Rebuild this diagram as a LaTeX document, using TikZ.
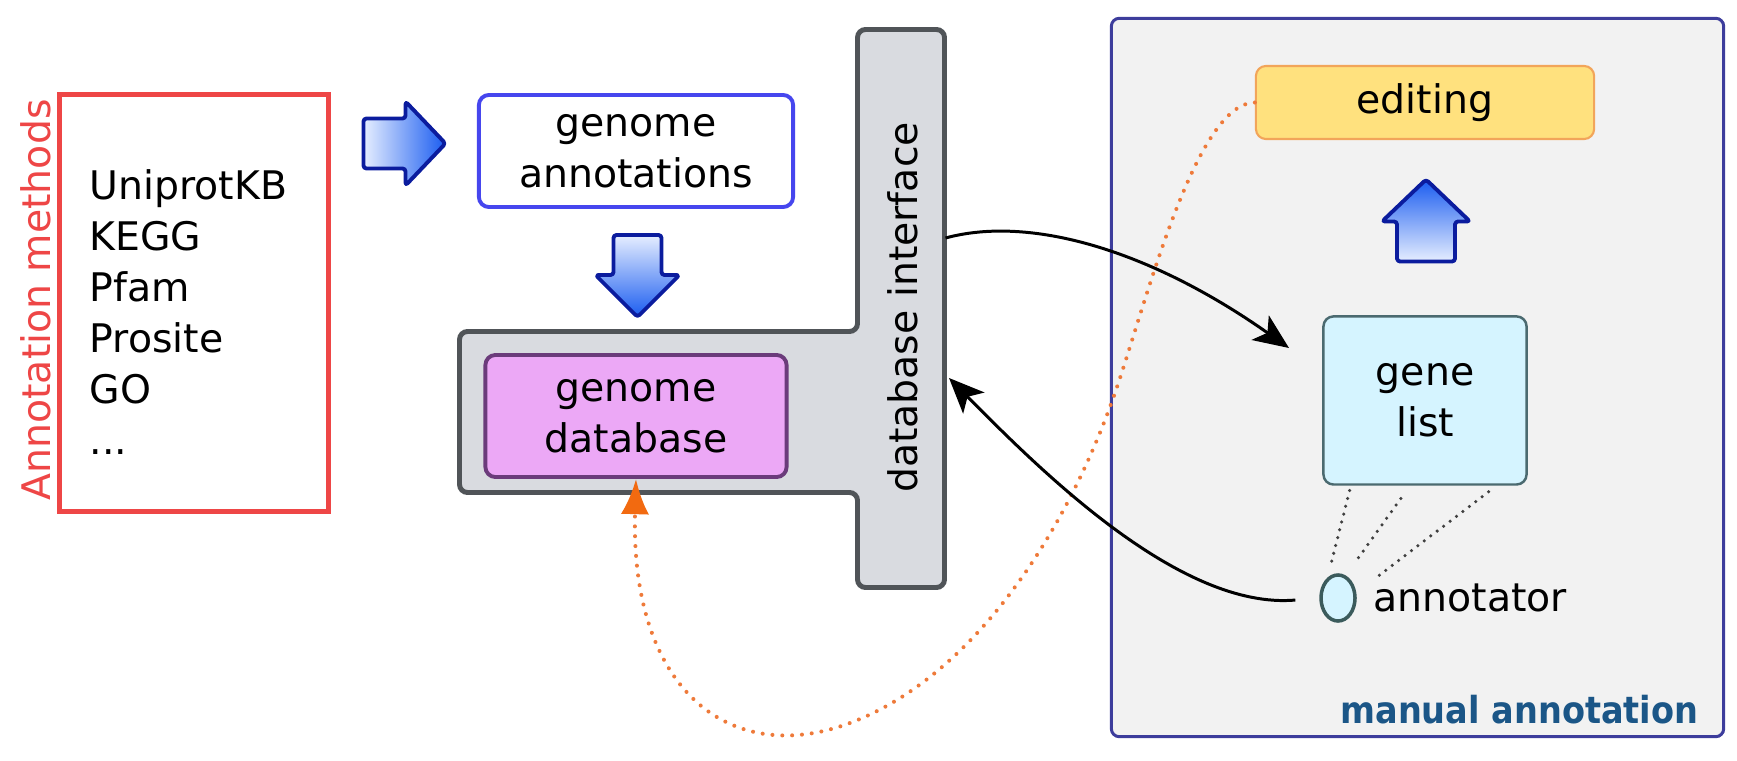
\documentclass[tikz,border=0pt]{standalone}
\usepackage{fontspec}
\setmainfont{DejaVu Sans}
\newfontfamily\labelfont[FakeStretch=0.9]{DejaVu Sans}
\usepackage{xcolor}
\usetikzlibrary{shapes.geometric,arrows.meta,positioning,calc}

\definecolor{methred}{HTML}{EE4646}
\definecolor{annblue}{HTML}{4646EE}
\definecolor{ifgray}{HTML}{D9DBE0}
\definecolor{ifedge}{HTML}{505458}
\definecolor{dbfill}{HTML}{ECA8F6}
\definecolor{dbedge}{HTML}{6B3B7B}
\definecolor{panelfill}{HTML}{F2F2F2}
\definecolor{paneledge}{HTML}{3D3D9C}
\definecolor{editfill}{HTML}{FFE17E}
\definecolor{editedge}{HTML}{F2A55A}
\definecolor{listfill}{HTML}{D5F4FF}
\definecolor{listedge}{HTML}{4B6A70}
\definecolor{annedge}{HTML}{3B5B5C}
\definecolor{labelblue}{HTML}{1B5687}
\definecolor{arrowedge}{HTML}{0B1C9E}
\definecolor{arrowlight}{HTML}{E6EEFF}
\definecolor{arrowdark}{HTML}{1A5CF0}
\definecolor{trace}{HTML}{EE7A3A}
\definecolor{tracehead}{HTML}{F26A10}

\begin{document}
\begin{tikzpicture}[
    x=0.01cm, y=-0.01cm,
    every node/.style={font=\fontsize{11.2}{14.5}\selectfont},
    box/.style={rectangle, draw, align=center, inner sep=0pt, rounded corners=0.1cm},
    bigarrow/.style={draw=arrowedge, line width=1.1pt, rounded corners=0.03cm, line join=round},
    ifshape/.style={fill=ifgray, draw=ifedge, line width=1.4pt, rounded corners=0.08cm},
    conn/.style={draw, line width=0.85pt, -{Stealth[length=10pt,width=8.5pt,inset=2.5pt]}},
    trail/.style={draw=trace, line width=1.15pt, line cap=round, dash pattern=on 0pt off 2.8pt, -{Latex[length=10pt,width=8pt,color=tracehead]}},
    tie/.style={draw=black!75, line width=1pt, line cap=round, dash pattern=on 0pt off 2.3pt}
]
\useasboundingbox (0,0) rectangle (1737,761);

% Manual annotation panel
\node [box, fill=panelfill, draw=paneledge, line width=0.85pt, rounded corners=0.08cm,
       minimum width=6.12cm, minimum height=7.18cm] (manual) at (1417.5,377.5) {};

% Annotation methods
\node [box, draw=methred, line width=1.4pt, sharp corners,
       minimum width=2.69cm, minimum height=4.17cm] (methods) at (194,303) {};
\node [anchor=north west, align=left, inner sep=0pt] (methlist) at (89,169)
      {UniprotKB\\KEGG\\Pfam\\Prosite\\GO\\...};
\node [rotate=90, anchor=base, text=methred] (methlabel) at (50,300) {Annotation methods};

% Database interface
\draw [ifshape] (857.5,29.5) -- (944.5,29.5) -- (944.5,587.5) -- (857.5,587.5)
      -- (857.5,492.5) -- (459.5,492.5) -- (459.5,331.5) -- (857.5,331.5) -- cycle;
\node [rotate=90, anchor=base] (dbif) at (917,307.5) {database interface};
\coordinate (ifout) at (945.5,238);
\coordinate (ifin) at (949,378);

% Genome data
\node [box, draw=annblue, line width=1.1pt, minimum width=3.14cm, minimum height=1.12cm]
      (annot) at (636,151) {genome\\annotations};
\node [box, fill=dbfill, draw=dbedge, line width=1.1pt, minimum width=3.01cm, minimum height=1.22cm,
       below=1.44cm of annot] (db) {genome\\database};

% Block arrows
\draw [bigarrow, left color=arrowlight, right color=arrowdark, shift={(404.5,143.5)}]
      (-41,-25) -- (1,-25) -- (1,-42) -- (41,0) -- (1,42) -- (1,25) -- (-41,25) -- cycle;
\draw [bigarrow, top color=arrowlight, bottom color=arrowdark, shift={(637.5,276)}]
      (-24,-41) -- (24,-41) -- (24,-1) -- (42,-1) -- (0,41) -- (-42,-1) -- (-24,-1) -- cycle;
\draw [bigarrow, bottom color=arrowlight, top color=arrowdark, shift={(1426,220.5)}]
      (-29,41) -- (29,41) -- (29,1) -- (44,1) -- (0,-41) -- (-44,1) -- (-29,1) -- cycle;

% Manual annotation steps
\node [box, fill=editfill, draw=editedge, line width=0.6pt, minimum width=3.38cm, minimum height=0.73cm]
      (editing) at (1425,102.5) {editing};
\node [box, fill=listfill, draw=listedge, line width=0.7pt, minimum width=2.03cm, minimum height=1.68cm,
       below=1.75cm of editing] (list) {gene\\list};
\node [ellipse, fill=listfill, draw=annedge, line width=1pt, inner sep=0pt,
       minimum width=0.34cm, minimum height=0.46cm] (ann) at (1338,598) {};
\node [right=0.16cm of ann, inner sep=0pt] (anntext) {annotator};
\node [anchor=base east, text=labelblue, font=\labelfont\bfseries\fontsize{10.6}{12}\selectfont]
      (manlabel) at ([xshift=-0.145cm,yshift=0.145cm]manual.south east) {manual annotation};
\coordinate (listin) at (1289,348);

% Connections
\draw [tie, shorten <=0.05cm, shorten >=0.167cm] (list.229.7) -- (ann.117.7);
\draw [tie, shorten <=0.157cm, shorten >=0.18cm] (list.260.7) -- (ann.71.7);
\draw [tie, shorten <=0.1cm, shorten >=0.26cm] (list.310.6) -- (ann.16.2);
\draw [trail] (editing.west) .. controls (1197,103) and (1149,292) .. (1117,387)
      .. controls (1072,520) and (980,674) .. (850,723)
      .. controls (730,768) and (630,690) .. (db.south);
\draw [conn] (ifout) .. controls (1030,215) and (1150,250) .. (listin);
\draw [conn, shorten <=0.24cm] (ann.west) .. controls (1180,610) and (1040,470) .. (ifin);
\end{tikzpicture}
\end{document}
